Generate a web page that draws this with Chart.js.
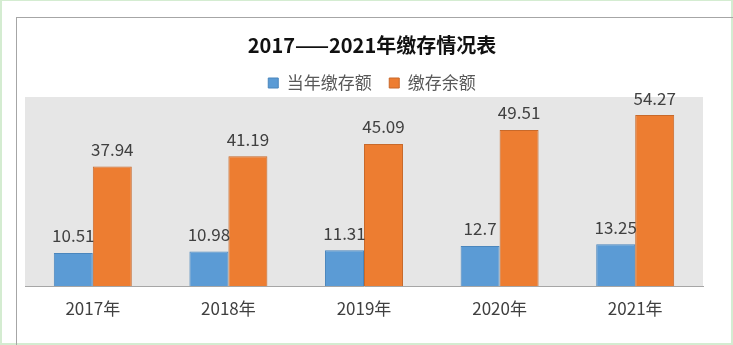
<!DOCTYPE html>
<html>
<head>
<meta charset="utf-8">
<title>2017——2021年缴存情况表</title>
<script src="https://cdn.jsdelivr.net/npm/chart.js@4/dist/chart.umd.min.js"></script>
<style>
  html, body { margin: 0; padding: 0; background: #fff; }
  body { position: relative; width: 733px; height: 345px; overflow: hidden; }
  #edge {
    position: absolute; left: 0; top: 0; width: 733px; height: 345px;
    box-sizing: border-box; border: 2px solid #d4ecd1; border-top-width: 1px;
  }
  #frame {
    position: absolute; left: 16px; top: 17px; width: 800px; height: 400px;
    border-left: 1px solid #a6a6a6; border-top: 1px solid #a6a6a6;
  }
  #chart { position: absolute; left: 0; top: 0; }
</style>
</head>
<body>
<div id="edge"></div>
<div id="frame"></div>
<canvas id="chart" width="733" height="345"></canvas>
<script>
const years = ['2017年', '2018年', '2019年', '2020年', '2021年'];
const yearDeposit = [10.51, 10.98, 11.31, 12.7, 13.25]; // 当年缴存额
const depositBalance = [37.94, 41.19, 45.09, 49.51, 54.27]; // 缴存余额

const FONT = '"Noto Sans CJK SC", "Noto Sans", sans-serif';

// grey fill behind the bars
const plotBackground = {
  id: 'plotBackground',
  beforeDraw(chart) {
    const { ctx, chartArea: a } = chart;
    ctx.save();
    ctx.fillStyle = '#e6e6e6';
    ctx.fillRect(a.left, a.top, a.right - a.left, a.bottom - a.top);
    ctx.restore();
  }
};

// value printed above each bar
const barValues = {
  id: 'barValues',
  afterDatasetsDraw(chart) {
    const ctx = chart.ctx;
    ctx.save();
    ctx.font = '17px ' + FONT;
    ctx.fillStyle = '#404040';
    ctx.textAlign = 'center';
    ctx.textBaseline = 'middle';
    chart.data.datasets.forEach((ds, i) => {
      chart.getDatasetMeta(i).data.forEach((bar, j) => {
        ctx.fillText(String(ds.data[j]), bar.x, bar.y - 17);
      });
    });
    ctx.restore();
  }
};

new Chart(document.getElementById('chart'), {
  type: 'bar',
  data: {
    labels: years,
    datasets: [
      {
        label: '当年缴存额',
        data: yearDeposit,
        backgroundColor: '#5b9bd5',
        borderColor: '#4a86bd',
        borderWidth: 1
      },
      {
        label: '缴存余额',
        data: depositBalance,
        backgroundColor: '#ed7d31',
        borderColor: '#c8692a',
        borderWidth: 1
      }
    ]
  },
  options: {
    responsive: false,
    animation: false,
    devicePixelRatio: 1,
    layout: { padding: { left: 25, right: 14, top: 0, bottom: 14.6 } },
    datasets: {
      bar: { categoryPercentage: 0.575, barPercentage: 1.0 }
    },
    scales: {
      x: {
        grid: { display: false, drawTicks: false },
        border: { display: true, color: '#a6a6a6', width: 1 },
        ticks: { font: { family: FONT, size: 17 }, color: '#404040', padding: 12 }
      },
      y: {
        position: 'right',
        min: 0,
        max: 60,
        ticks: { display: false },
        grid: { display: false, drawTicks: false },
        border: { display: false },
        afterFit: (scale) => { scale.width = 16; }
      }
    },
    plugins: {
      title: {
        display: true,
        text: '2017——2021年缴存情况表',
        color: '#111',
        font: { family: FONT, size: 20, weight: 'bold' },
        padding: { top: 33, bottom: 0 }
      },
      legend: {
        position: 'top',
        maxHeight: 40,
        labels: {
          boxWidth: 10,
          boxHeight: 10,
          padding: 17.5,
          color: '#595959',
          font: { family: FONT, size: 17 }
        }
      },
      tooltip: { enabled: false }
    }
  },
  plugins: [plotBackground, barValues]
});
</script>
</body>
</html>
